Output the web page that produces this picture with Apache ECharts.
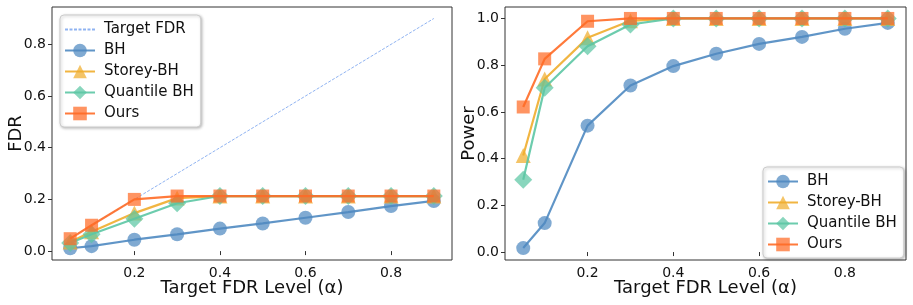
<!DOCTYPE html>
<html>
<head>
<meta charset="utf-8">
<script src="https://cdn.jsdelivr.net/npm/echarts@6/dist/echarts.min.js"></script>
<style>html,body{margin:0;padding:0;background:#fff;}#c{width:913px;height:305px;}</style>
</head>
<body>
<div id="c"></div>
<script>
const alphas = [0.05, 0.1, 0.2, 0.3, 0.4, 0.5, 0.6, 0.7, 0.8, 0.9];
const targetFDR = [0.05, 0.1, 0.2, 0.3, 0.4, 0.5, 0.6, 0.7, 0.8, 0.9];
const fdrBH = [0.011, 0.019, 0.044, 0.065, 0.087, 0.107, 0.129, 0.151, 0.174, 0.194];
const fdrStorey = [0.035, 0.075, 0.147, 0.205, 0.213, 0.213, 0.213, 0.213, 0.213, 0.213];
const fdrQuantile = [0.031, 0.065, 0.125, 0.185, 0.213, 0.213, 0.213, 0.213, 0.213, 0.213];
const fdrOurs = [0.048, 0.100, 0.200, 0.213, 0.213, 0.213, 0.213, 0.213, 0.213, 0.213];
const powBH = [0.017, 0.124, 0.541, 0.713, 0.796, 0.849, 0.891, 0.921, 0.956, 0.981];
const powStorey = [0.413, 0.741, 0.917, 0.99, 1.0, 1.0, 1.0, 1.0, 1.0, 1.0];
const powQuantile = [0.31, 0.703, 0.881, 0.974, 1.0, 1.0, 1.0, 1.0, 1.0, 1.0];
const powOurs = [0.621, 0.827, 0.988, 1.0, 1.0, 1.0, 1.0, 1.0, 1.0, 1.0];
const xTicks = [0.2, 0.4, 0.6, 0.8];
const fdrTicks = [0.0, 0.2, 0.4, 0.6, 0.8];
const powTicks = [0.0, 0.2, 0.4, 0.6, 0.8, 1.0];

const FONT = 'DejaVu Sans';
const methods = [
  {name: 'BH', color: '#4f89c1', symbol: 'circle', size: 14, fdr: fdrBH, pow: powBH},
  {name: 'Storey-BH', color: '#f0ad2c', symbol: 'triangle', size: 15, fdr: fdrStorey, pow: powStorey},
  {name: 'Quantile BH', color: '#5cc6a4', symbol: 'diamond', size: 18, fdr: fdrQuantile, pow: powQuantile},
  {name: 'Ours', color: '#ff6b26', symbol: 'rect', size: 13, fdr: fdrOurs, pow: powOurs}
];
const pair = (ys) => alphas.map((a, i) => [a, ys[i]]);

function xAx(idx) {
  return {
    type: 'value', gridIndex: idx, min: 0.0075, max: 0.9425,
    name: 'Target FDR Level (α)', nameLocation: 'middle', nameGap: 19, nameMoveOverlap: false,
    nameTextStyle: {fontFamily: FONT, fontSize: 18, color: '#111'},
    axisLine: {show: false}, splitLine: {show: false},
    axisTick: {show: true, inside: false, length: 4, customValues: xTicks, lineStyle: {color: '#333'}},
    axisLabel: {customValues: xTicks, fontFamily: FONT, fontSize: 14, color: '#111', margin: 6,
      formatter: v => v.toFixed(1)}
  };
}
function yAx(idx, name, min, max, ticks, gap) {
  return {
    type: 'value', gridIndex: idx, min: min, max: max,
    name: name, nameLocation: 'middle', nameGap: gap, nameRotate: 90, nameMoveOverlap: false,
    nameTextStyle: {fontFamily: FONT, fontSize: 18, color: '#111'},
    axisLine: {show: false}, splitLine: {show: false},
    axisTick: {show: true, inside: false, length: 4, customValues: ticks, lineStyle: {color: '#333'}},
    axisLabel: {customValues: ticks, fontFamily: FONT, fontSize: 14, color: '#111', margin: 6,
      formatter: v => v.toFixed(1)}
  };
}

const series = [{
  name: 'Target FDR', type: 'line', xAxisIndex: 0, yAxisIndex: 0,
  data: pair(targetFDR), symbol: 'none', z: 1,
  lineStyle: {color: '#8fb3f2', width: 1, type: [3, 1.5]},
  itemStyle: {color: '#8fb3f2'}
}];
methods.forEach((m, k) => {
  [0, 1].forEach(g => {
    series.push({
      name: m.name, type: 'line', xAxisIndex: g, yAxisIndex: g,
      data: pair(g === 0 ? m.fdr : m.pow),
      symbol: m.symbol, symbolSize: m.size, showSymbol: true,
      z: 2 + k,
      lineStyle: {color: m.color, width: 2.2, opacity: 0.9},
      itemStyle: {color: m.color, opacity: 0.72},
      emphasis: {disabled: true}
    });
  });
});

const legendBase = {
  orient: 'vertical', itemWidth: 30, itemHeight: 17, itemGap: 6,
  backgroundColor: '#fff', borderColor: '#ccc', borderWidth: 1, borderRadius: 4,
  padding: [7, 7, 6, 4],
  shadowColor: 'rgba(0,0,0,0.25)', shadowBlur: 3, shadowOffsetX: 1, shadowOffsetY: 1,
  textStyle: {fontFamily: FONT, fontSize: 15, color: '#111', padding: [0, 0, 0, 4]},
  selectedMode: false
};

const chart = echarts.init(document.getElementById('c'), null, {renderer: 'canvas'});
chart.setOption({
  animation: false,
  backgroundColor: '#fff',
  grid: [
    {left: 52, top: 7, width: 400, height: 253, show: true, borderColor: '#333', borderWidth: 1, backgroundColor: 'transparent'},
    {left: 505, top: 7, width: 401, height: 253, show: true, borderColor: '#333', borderWidth: 1, backgroundColor: 'transparent'}
  ],
  xAxis: [xAx(0), xAx(1)],
  yAxis: [yAx(0, 'FDR', -0.0345, 0.9445, fdrTicks, 27), yAx(1, 'Power', -0.034, 1.049, powTicks, 27)],
  legend: [
    Object.assign({}, legendBase, {left: 60, top: 15, data: [
      {name: 'Target FDR', itemStyle: {opacity: 0}}, 'BH', 'Storey-BH', 'Quantile BH', 'Ours']}),
    Object.assign({}, legendBase, {left: 763, top: 167, data: ['BH', 'Storey-BH', 'Quantile BH', 'Ours']})
  ],
  series: series
});
</script>
</body>
</html>
